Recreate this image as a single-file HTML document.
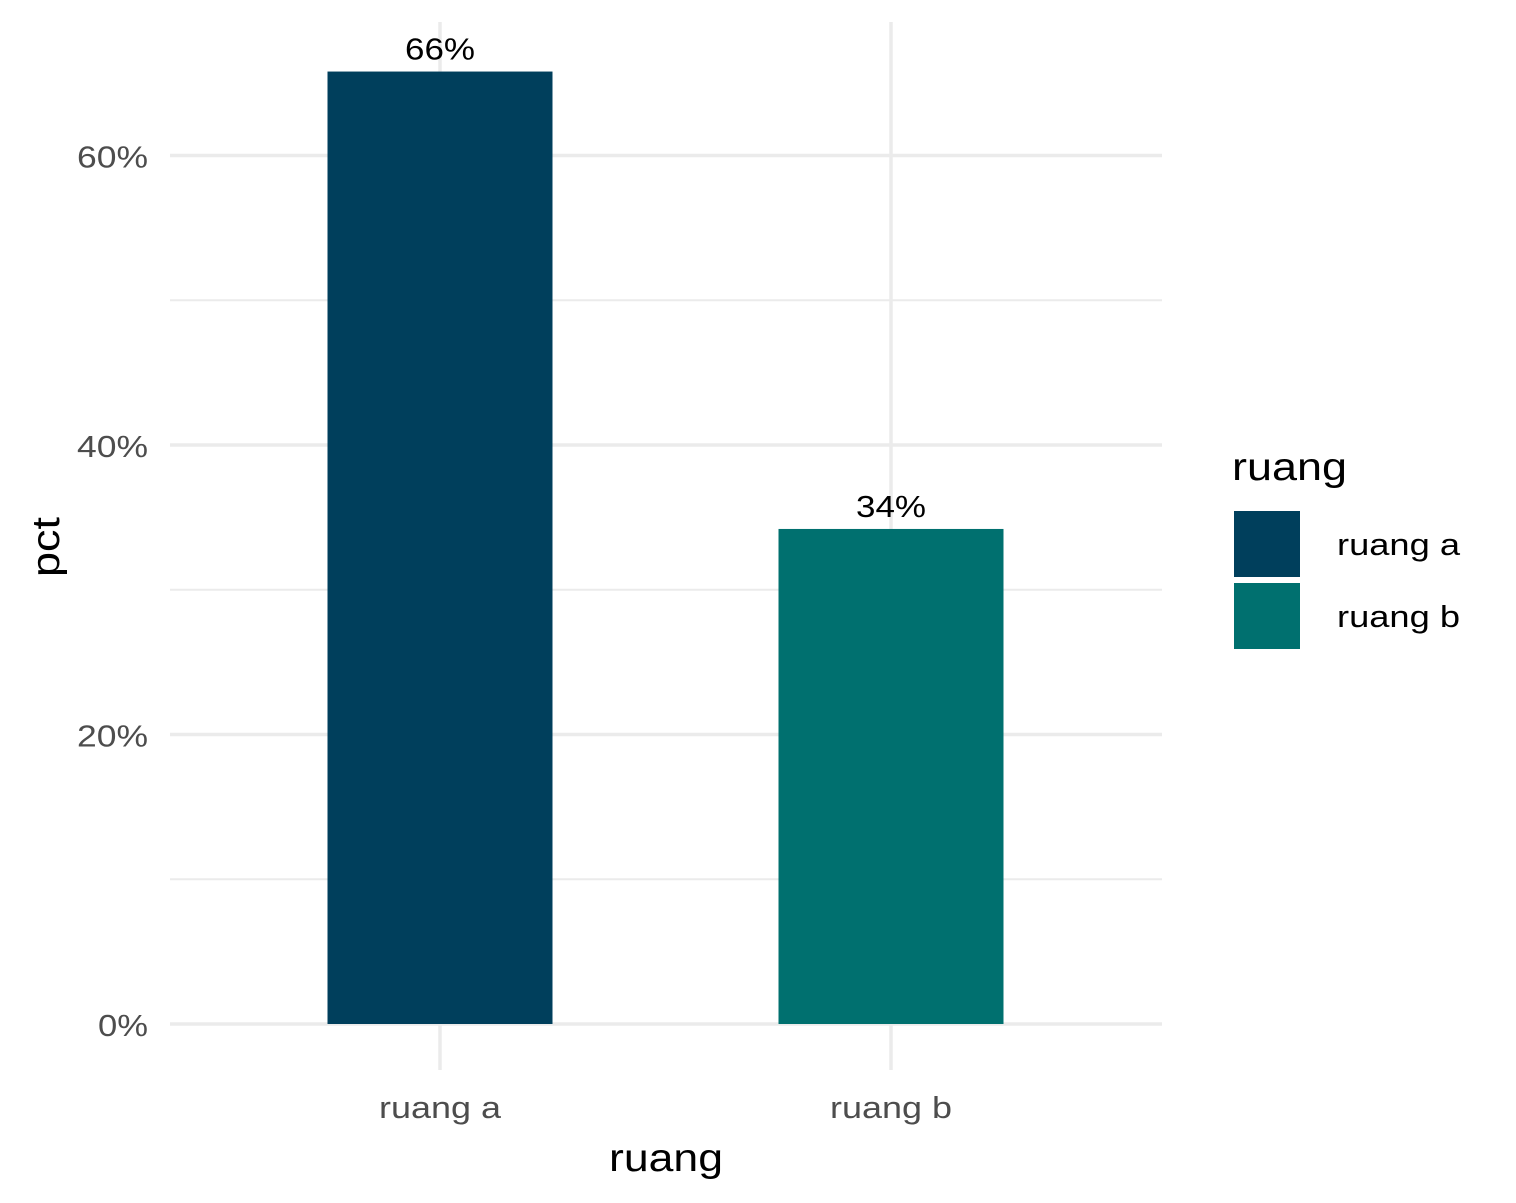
<!DOCTYPE html>
<html><head><meta charset="utf-8"><style>
html,body{margin:0;padding:0;background:#fff;}
svg{display:block;font-family:"Liberation Sans",Arial,sans-serif;}
</style></head><body>
<svg id="chart" width="1516" height="1203" viewBox="0 0 1516 1203" xmlns="http://www.w3.org/2000/svg">
<g id="grid"></g>
<g id="bars"></g>
<g id="yticks"></g>
<g id="xticks"></g>
<text x="609" y="1171" font-size="39" textLength="114" lengthAdjust="spacingAndGlyphs" fill="#000">ruang</text>
<text transform="translate(59,577) rotate(-90)" font-size="39" textLength="60" lengthAdjust="spacingAndGlyphs" fill="#000">pct</text>
<g>
<text x="1232" y="480" font-size="39" textLength="115" lengthAdjust="spacingAndGlyphs" fill="#000">ruang</text>
<g id="legend-items"></g>
</g>
</svg>
<script>
const categories = ["ruang a", "ruang b"];
const values = [0.658, 0.342];
const labels = ["66%", "34%"];
const colors = ["#003f5c", "#00706f"];
const yTicks = [0, 0.2, 0.4, 0.6];
const yTickLabels = ["0%", "20%", "40%", "60%"];
const yMinor = [0.1, 0.3, 0.5];

const NS = "http://www.w3.org/2000/svg";
const y0 = 1024, pxPerUnit = 1447.5;
const yScale = v => y0 - v * pxPerUnit;
const xScale = i => 440 + i * 451;
const barW = 225;
const pctW = s => s.length === 2 ? 50 : 71;
function mk(tag, attrs, parent){const e=document.createElementNS(NS,tag);for(const k in attrs)e.setAttribute(k,attrs[k]);parent.appendChild(e);return e;}
const grid=document.getElementById('grid'), bars=document.getElementById('bars'),
 yt=document.getElementById('yticks'), xt=document.getElementById('xticks'), lg=document.getElementById('legend-items');

yMinor.forEach(v=>{
 const l=mk('line',{x1:170,x2:1162,y1:yScale(v),y2:yScale(v),stroke:'#ebebeb','stroke-width':2},grid);
 
 
});
yTicks.forEach((v,i)=>{
 const l=mk('line',{x1:170,x2:1162,y1:yScale(v),y2:yScale(v),stroke:'#ebebeb','stroke-width':3.5},grid);
 
 
 const s=yTickLabels[i];
 const t=mk('text',{x:148,y:yScale(v)+12,'font-size':31,'text-anchor':'end',textLength:pctW(s),lengthAdjust:'spacingAndGlyphs',fill:'#4d4d4d'},yt);
 t.textContent=s;
 
 
});
categories.forEach((c,i)=>{
 const x=xScale(i);
 const l=mk('line',{x1:x,x2:x,y1:22,y2:1070,stroke:'#ebebeb','stroke-width':3.5},grid);
 
 
 const r=mk('rect',{x:x-barW/2,y:yScale(values[i]),width:barW,height:y0-yScale(values[i]),fill:colors[i]},bars);
 
 
 const bl=mk('text',{x:x,y:yScale(values[i])-12,'font-size':31,'text-anchor':'middle',textLength:70,lengthAdjust:'spacingAndGlyphs',fill:'#000'},bars);
 bl.textContent=labels[i];
 
 
 const t=mk('text',{x:x,y:1118,'font-size':31,'text-anchor':'middle',textLength:122,lengthAdjust:'spacingAndGlyphs',fill:'#4d4d4d'},xt);
 t.textContent=c;
 
 
 const k=mk('rect',{x:1234,y:511+i*72,width:66,height:66,fill:colors[i]},lg);
 
 
 const lt=mk('text',{x:1337,y:555+i*72,'font-size':31,textLength:123,lengthAdjust:'spacingAndGlyphs',fill:'#000'},lg);
 lt.textContent=c;
 
 
});
</script>
</body></html>
